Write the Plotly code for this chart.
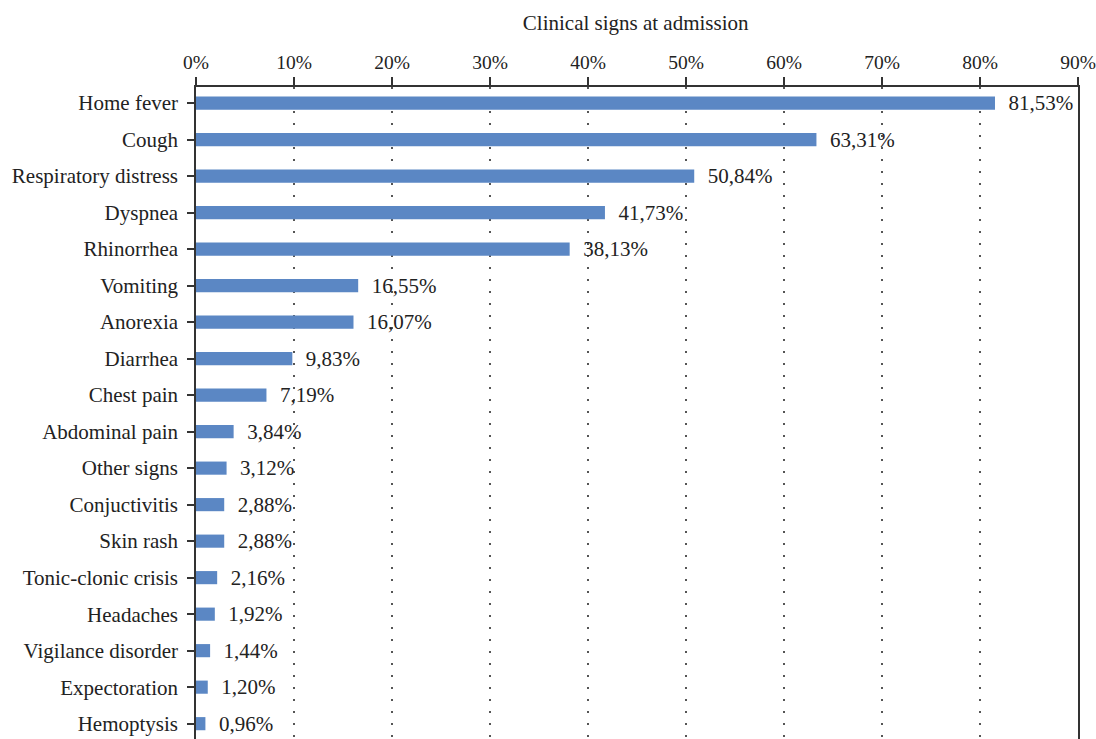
import plotly.graph_objects as go

signs = ["Home fever", "Cough", "Respiratory distress", "Dyspnea", "Rhinorrhea",
         "Vomiting", "Anorexia", "Diarrhea", "Chest pain", "Abdominal pain",
         "Other signs", "Conjuctivitis", "Skin rash", "Tonic-clonic crisis",
         "Headaches", "Vigilance disorder", "Expectoration", "Hemoptysis"]
percent = [81.53, 63.31, 50.84, 41.73, 38.13, 16.55, 16.07, 9.83, 7.19, 3.84,
           3.12, 2.88, 2.88, 2.16, 1.92, 1.44, 1.20, 0.96]

font_family = "Liberation Serif"
fsize = 21

fig = go.Figure()
fig.add_trace(go.Bar(x=percent, y=signs, orientation="h",
                     marker=dict(color="#5b87c4", line=dict(width=0)),
                     width=0.36,
                     texttemplate="  %{x:.2f}%", textposition="outside",
                     constraintext="none", cliponaxis=False,
                     textfont=dict(family=font_family, size=fsize, color="#222222")))

fig.update_layout(width=1096, height=739,
                  paper_bgcolor="white", plot_bgcolor="white",
                  separators=",.",
                  margin=dict(l=196, r=18, t=87, b=0, autoexpand=False),
                  showlegend=False,
                  font=dict(family=font_family, size=fsize, color="#222222"),
                  title=dict(text="Clinical signs at admission", x=0.58, xanchor="center",
                             y=0.969, yanchor="middle",
                             font=dict(family=font_family, size=fsize, color="#222222")))

fig.update_xaxes(side="top", range=[0, 90], dtick=10, ticksuffix="%",
                 automargin=False, ticklabeloverflow="allow",
                 showline=True, linecolor="#333333", linewidth=1.5,
                 ticks="outside", ticklen=8, tickcolor="#333333", tickwidth=1.5,
                 showgrid=True, gridcolor="#555555", gridwidth=1.5,
                 griddash="2px,10px", zeroline=False,
                 tickfont=dict(family=font_family, size=19.5))
fig.update_yaxes(type="category", range=[17.42, -0.44], automargin=False,
                 showline=True, linecolor="#333333", linewidth=1.5, mirror=True,
                 ticks="outside", ticklen=7, tickcolor="#333333", tickwidth=1.5,
                 ticklabelstandoff=5, showgrid=False, zeroline=False,
                 tickfont=dict(family=font_family, size=fsize))

# drop the default page margin so the figure fills the window exactly
fig.write_html("out.html", config={"displayModeBar": False},
               post_script="document.body.style.margin='0';document.body.style.overflow='hidden';")
